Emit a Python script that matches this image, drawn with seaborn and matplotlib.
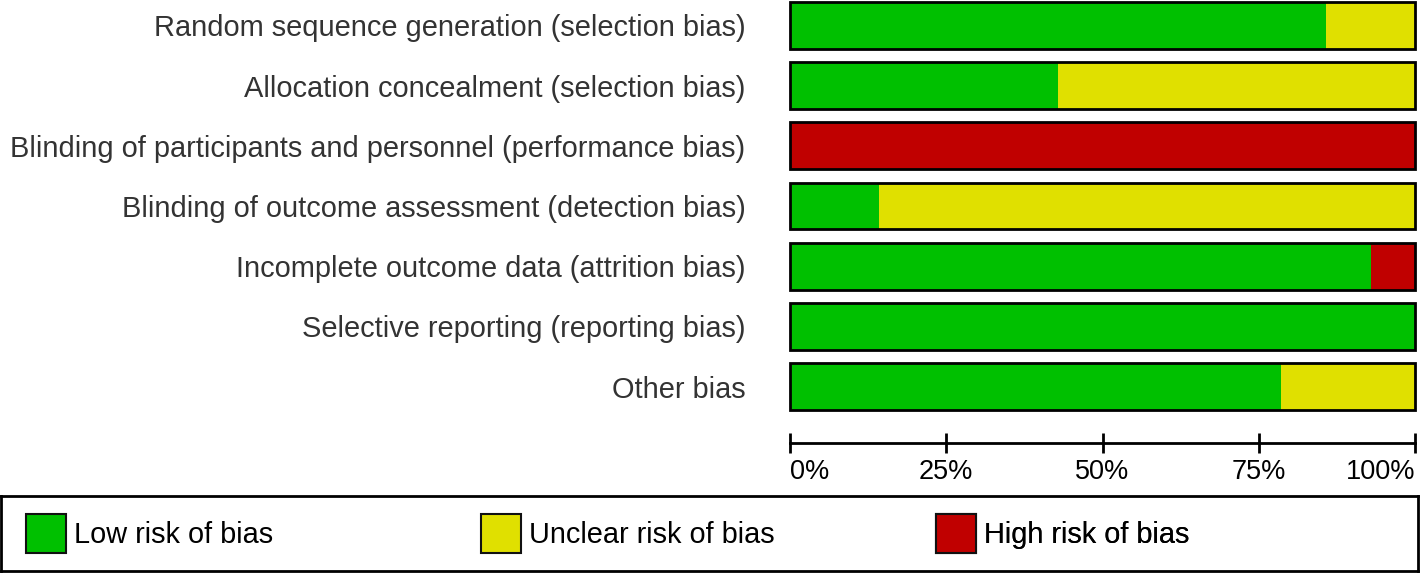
import numpy as np
import pandas as pd
import matplotlib
matplotlib.use("Agg")
import matplotlib.pyplot as plt
import seaborn as sns
from matplotlib.patches import Patch

# Risk of bias domains (top to bottom)
domains = [
    "Random sequence generation (selection bias)",
    "Allocation concealment (selection bias)",
    "Blinding of participants and personnel (performance bias)",
    "Blinding of outcome assessment (detection bias)",
    "Incomplete outcome data (attrition bias)",
    "Selective reporting (reporting bias)",
    "Other bias",
]
# percent of studies per judgement
low_pct = [85.7, 42.9, 0.0, 14.3, 92.9, 100.0, 78.6]
unclear_pct = [14.3, 57.1, 0.0, 85.7, 0.0, 0.0, 21.4]
high_pct = [0.0, 0.0, 100.0, 0.0, 7.1, 0.0, 0.0]

tick_vals = [0, 25, 50, 75, 100]
tick_labels = ["0%", "25%", "50%", "75%", "100%"]

legend_labels = ["Low risk of bias", "Unclear risk of bias", "High risk of bias"]
colors = ["#00C000", "#E0E000", "#C00000"]

sns.set_style("white")
plt.rcParams['font.family'] = ['Liberation Sans', 'DejaVu Sans']

df = pd.DataFrame({"domain": domains, "low": low_pct,
                   "unclear": unclear_pct, "high": high_pct})
df["cum_unclear"] = df["low"] + df["unclear"]
df["cum_high"] = df["cum_unclear"] + df["high"]

fig = plt.figure(figsize=(14.2, 5.73), dpi=100)
ax = fig.add_axes([790/1420, 163/573, 625/1420, 408/573])

bar_w = 0.78
# stacked bars drawn back to front (cumulative totals)
for col, c in [("cum_high", colors[2]), ("cum_unclear", colors[1]), ("low", colors[0])]:
    sns.barplot(data=df, x=col, y="domain", color=c, saturation=1,
                width=bar_w, errorbar=None, linewidth=0, ax=ax)
# black outline round each whole bar
sns.barplot(data=df, x="cum_high", y="domain", color="black", fill=False,
            width=bar_w, errorbar=None, linewidth=2, ax=ax)
for p in ax.patches:
    p.set_clip_on(False)

ax.set_xlim(0, 100)
ax.set_ylim(6 + bar_w/2, -bar_w/2)
ax.set_xlabel("")
ax.set_ylabel("")
for s in ["top", "right", "left"]:
    ax.spines[s].set_visible(False)
ax.spines["bottom"].set_position(("outward", 23.8))
ax.spines["bottom"].set_linewidth(2)
ax.spines["bottom"].set_color("black")
ax.set_xticks(tick_vals)
ax.set_xticklabels(tick_labels)
ax.tick_params(axis="x", bottom=True, direction="inout", length=14.4, width=2,
               pad=4, labelsize=19.5, colors="black")
xl = ax.get_xticklabels()
xl[0].set_ha("left")
xl[-1].set_ha("right")
ax.tick_params(axis="y", left=False, length=0, pad=32, labelsize=20.9,
               labelcolor="#333333")

# legend box along the bottom
lax = fig.add_axes([0.5/1420, 2/573, 1417/1420, 75/573])
lax.set_xticks([])
lax.set_yticks([])
for s in lax.spines.values():
    s.set_linewidth(2)
    s.set_color("black")
for i, (lab, c) in enumerate(zip(legend_labels, colors)):
    h = Patch(facecolor=c, edgecolor="#111111", linewidth=1.5, label=lab)
    leg = lax.legend(handles=[h], loc="center left",
                     bbox_to_anchor=((25 + 455*i)/1417, 0.5),
                     frameon=False, fontsize=20.8, handlelength=1.4,
                     handleheight=1.75, handletextpad=0.28, borderpad=0,
                     borderaxespad=0, labelcolor="black")
    lax.add_artist(leg)

fig.savefig("out.png", dpi=100)
